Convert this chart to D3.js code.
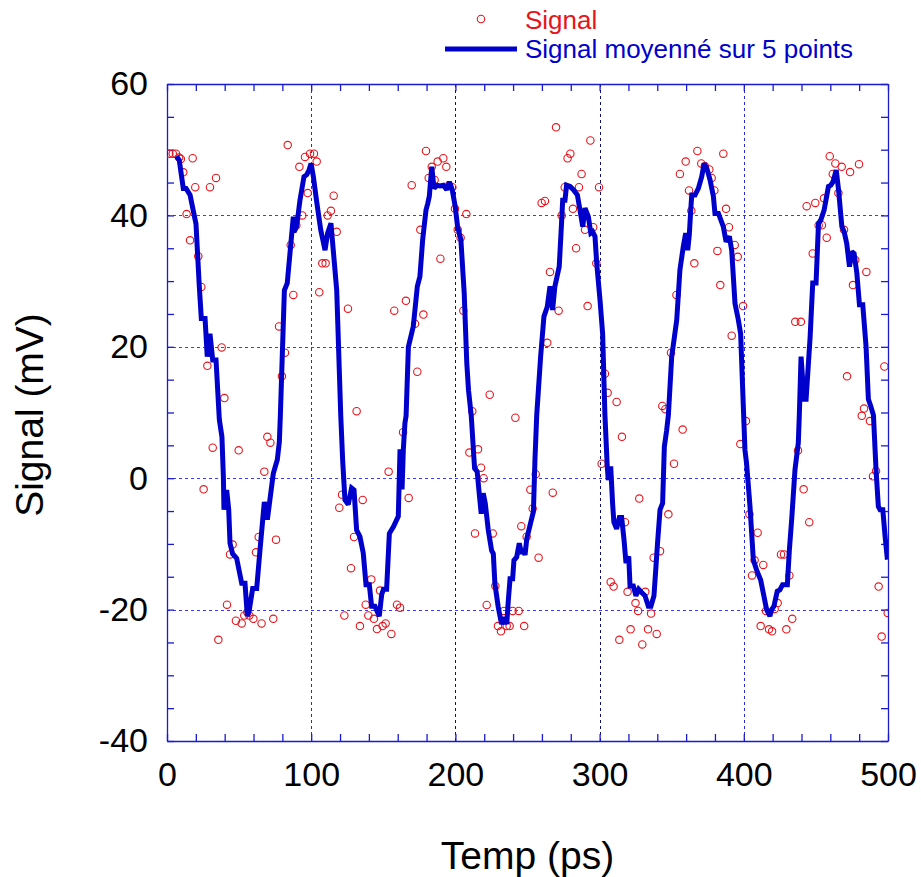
<!DOCTYPE html>
<html><head><meta charset="utf-8">
<script src="https://cdn.jsdelivr.net/npm/d3@7"></script>
<style>
html,body{margin:0;padding:0;background:#fff;}
svg{display:block;font-family:"Liberation Sans",Arial,Helvetica,sans-serif;}
</style></head>
<body><svg id="c" width="921" height="877"></svg>
<script>
// ---- data ----
const signalT = [1.6,4,6.2,8.4,9.6,11.3,13.6,16,17.8,19.6,21.7,23.8,25.4,28,29.8,31.7,34,35.6,37.9,39.8,41.6,43.7,45.5,47.8,49.7,51.8,53.6,55.7,57.1,59.9,61.7,63.6,65.6,67.5,69.6,71.7,73.7,75.6,77.7,79.7,81.8,83.7,85.8,87.6,89.7,91.8,93.8,95.7,97.6,99.2,101.9,103.8,105.6,107.7,110,111.4,113.7,115.6,117.7,119.5,121.4,123,125.5,127.6,129.7,131.5,133.8,135.7,137.8,139.6,141.7,143.5,145.6,147.7,149.5,151.6,153.7,155.6,157.6,159.5,161.6,163.7,165.7,167.6,169.7,172,173.6,175.7,177.8,179.6,181.5,183.6,185.6,187.7,189.6,191.6,193.7,195.6,197.9,199.7,201.6,203.6,205.5,207.6,209.7,211.7,213.6,215.7,217.8,219.6,221.7,223.8,225.9,227.7,229.5,231.6,233.7,235.6,237.6,239.7,241.6,243.9,245.7,247.7,249.4,252,253.6,255.7,257.7,259.8,262.1,263.7,265.6,267.5,269.8,271.6,273.7,275.8,277.8,279.7,281.5,283.7,285.7,287.5,289.9,291.7,293.6,295.6,297.7,299.6,301.4,303.7,305.6,307.7,309.7,311.8,313.7,315.5,317.6,319.4,321.5,324.9,326.7,327.5,329.6,331.7,333.6,335.7,337.5,339.6,341.9,343.5,345.6,347.7,349.5,351.6,353.3,355.7,357.6,359.7,362,363.6,365.7,367.8,370.5,373,376.1,377.7,379.6,381.7,383.7,385.8,387.7,389.7,391.6,393.7,395.8,397.6,399.5,401.5,403.9,405.7,407.5,409.6,411.7,413.5,415.4,417.5,419.6,421.4,423.5,425.8,427.9,429.5,431.6,433.6,435.7,437.6,439.6,441.5,443.6,445.4,447.8,449.6,451.9,454.2,455.6,457.5,459.6,461.7,463.5,465.6,467.9,469.5,471.6,473.7,475.7,477.3,479.9,481.8,483.4,485,487.5,489.6,491.7,493.5,495.6,497.5,499.8];
const signalV = [49.4,49.4,49.4,48.8,48.6,46.55,40.2,36.2,48.7,44.3,33.8,29.1,-1.7,17.1,44.3,4.65,45.7,-24.6,19.9,12.2,-19.25,-11.6,-10.1,-21.7,4.25,-22.1,-20.9,-20.4,-20.9,-21.4,-11.28,-8.95,-22.1,1,6.3,5.4,-21.4,-9.35,23.1,15.5,19.1,50.7,35.5,27.9,38.5,47.4,40,48.9,43.4,49.4,49.4,48.2,28.3,32.7,32.7,40,40.7,43,37.5,-4.5,-2.5,-20.9,25.8,-13.7,-8.95,10.2,-22.5,-3.3,-19.25,-20.9,-15.4,-21.4,-22.96,-17.1,-22.5,-22.1,1,-23.7,25.5,-19.25,-19.7,7,27,-3,44.6,23.5,16.2,37.8,24.9,49.8,45.7,47.4,45.4,48.2,33.4,48.7,47.4,44.6,44.3,41,37.8,36.6,25.5,40.2,3.9,10.2,-8.4,4.4,1.6,0,-19.3,12.7,-8.4,-16.4,-22.5,-23.3,-20.2,-22.5,-22.5,-20.2,9.2,-20.2,-7.3,-22.5,-8.9,-1.75,-4.6,0.6,-12.1,41.9,42.2,20.6,31.4,-2.2,53.4,25.5,40,44.3,48.7,49.4,41,35,44.3,46.3,37.8,26.2,51.4,38.2,32.7,44.3,2.2,15.9,13,-15.8,-16.5,11.6,-24.6,6.3,-6.7,-17.3,-23,-19,-20.2,-3.1,-25.3,-17.3,-23,-20.6,-12.1,-23.7,-11.1,11,10.5,-5.5,19.1,2.2,27.9,46.3,7.4,48.2,43.8,40.7,32.7,49.8,47.9,47.5,47,45.7,43.8,34.6,29.4,49.4,41,38.2,21.7,35.5,33.7,5.2,26.2,8.7,-5.5,-14.8,-12.5,-8.3,-22.5,-13.2,-20.2,-23,-23.3,-19.9,-19,-11.6,-11.6,-23,-14.8,-21.4,23.8,4.2,23.8,-1.7,41.4,-6.7,34.2,41.9,38.5,38.5,42.6,36.6,49,46.3,47.9,43.4,47.4,37.8,15.5,46.6,29.4,33.2,47.8,9.5,10.6,31.4,8.7,0.3,1.1,-16.5,-24.1,17,-20.5];

const avgT = [6.5,8.5,11.3,13.2,16,20.1,22.4,23.8,26.4,27.9,29.8,31.7,34,36.3,38.1,39.1,39.5,41.4,42.8,43.7,45.5,48.3,51.8,54.1,55.7,57.1,59.4,62.2,64.5,67.5,69.6,73.7,76.5,77.9,78.6,81.4,83.4,85.8,87.6,88.1,89.9,92.2,95,96.9,98.5,99.9,101.5,103.8,106.6,109.6,111.4,113.7,115.3,117.7,120.5,121.8,123.4,125.7,128,129.7,131.5,133.8,136.1,138,140.3,141.9,144.2,147.2,148.9,150.1,152.3,154.2,157,160.4,161.6,163,163.9,165,165.8,167.4,170.8,173.6,175.4,177.3,179.6,180.8,181.9,183.6,185.2,187.1,189.4,191.6,194,195.8,197.8,199.9,201.5,203.8,206.1,207.9,209.1,211,213.3,215.1,216.5,217.9,219.3,220.7,222.8,225.1,226.3,227.4,229.7,232,233.7,235.6,236.7,237.9,239.7,240.6,242.5,244.3,245.9,247.1,248.3,249.5,252.3,254.1,255.2,256.4,259.1,261.4,263.7,265.6,267.4,269,272,273.6,274.4,276,277.1,279.5,281.8,284.6,286.4,288.3,289.9,292.2,293.9,295.2,296.8,298,300.3,302.1,303.7,305.3,306,307.7,309,309.9,311.8,313.7,315.3,316.9,318.3,320.2,321.1,323.4,325.2,327.1,329.2,331.5,333.8,335.6,337.7,339.1,340.2,341.9,343.7,344.9,346.5,347.7,350,353.5,355.7,358,359.7,361.1,362.2,363.2,363.9,366.2,368.5,370.8,372.5,374.3,376.6,378.9,380,382.4,385.8,387.7,390,391.6,393.9,396.2,397.8,399.9,400.8,401.9,404.3,406.6,408.9,411.7,414,415.8,418.1,419.3,420.9,423.2,425,426.9,430.2,431.6,433.2,435.5,437.8,438.5,439.7,441.8,443.2,446,447.8,450.1,451.8,453.4,455.7,458.7,460.4,461.8,464.1,465.7,468,469.6,471.4,473.3,474.9,476.5,478.4,480.2,482.5,484.8,486.4,488,489.9,491.7,493.3,494.5,496.4,498,499.6];
const avgV = [49,48.4,44.1,44.1,43.1,38.7,29.2,24.3,24.3,18.5,22,18,18,8.9,6.3,0.2,-4.8,-1.8,-4.8,-9.9,-11.5,-12.2,-16,-16,-21,-20,-16.8,-16.8,-10.9,-3.6,-6.3,0.7,2.8,5.5,9.5,28.6,29.7,35.5,39.8,37.5,38.3,42.3,45.9,46.2,46.9,47.9,45.9,42.1,37.8,34.7,37.3,38.8,34.7,28.6,9.5,2.8,-3.3,-4,-1.5,-1.8,-7.9,-8.9,-11.4,-16.2,-16.2,-19.5,-19.5,-21,-17.7,-16.9,-16.9,-8.4,-7.4,-5.8,4.4,-1.7,4.4,8.4,9.5,20,23.1,29.2,30.7,36.3,40.8,41.8,42.9,47.4,44.1,44.6,44.5,44.6,43.9,45.1,43.9,41.3,38.3,36.3,28.2,17.5,13.4,9.5,1.5,1,-2.3,-5.4,-2.3,-3.8,-7.9,-11,-11.5,-16.1,-19.6,-22.2,-21.2,-22.2,-18.6,-15.3,-15.3,-12.5,-12,-9.9,-11.5,-10.7,-11.7,-9.2,-6.7,-5.1,3,9.6,18.5,24.6,26.1,29.2,25.6,29.2,32.2,38.8,42.3,42.3,44.6,44.4,43.9,43.1,40.8,38.3,41.1,39.8,37.3,37.5,36.8,32.7,27.1,22,9.6,1.8,-0.3,1.8,-3.8,-6.7,-7.7,-6,-6,-9.3,-12.9,-11.9,-16.4,-16.4,-17.9,-16.9,-17.4,-17.9,-19.5,-19.5,-17.9,-13.4,-9.8,-4.8,-3.8,4.8,7.3,9.6,18.5,24.1,31.7,35.2,37.3,34.7,37,40.8,43.1,43.1,44.1,45.9,47.9,47.2,45.4,42.9,40.3,40.3,38.3,36,36.8,34.7,26.6,24.1,22,9.6,4.3,2.3,-4.3,-12.4,-14,-15.5,-18,-20,-21,-20,-19.5,-17.2,-17,-16.2,-16.2,-10.9,-6.3,1.3,5.4,9.6,18.5,12,12,21.5,29.7,29.7,38.8,39.3,40.8,44.4,44.6,45.1,46.9,43.9,38.3,37.5,35.7,32.2,34.5,34.2,31.2,26.4,26.4,20,12,11,9.6,1.3,-4.3,-4.8,-4.8,-8.9,-12.4,-11.9];

const xMajor = [0,100,200,300,400,500];
const yMajor = [-40,-20,0,20,40,60];
const xGrid = [100,200,300,400];
const yGrid = [-20,0,20,40];
const legendLabels = ["Signal","Signal moyenné sur 5 points"];
const xTitle = "Temp (ps)";
const yTitle = "Signal (mV)";

// ---- layout ----
const L = 167, R = 888, T = 84, B = 741;
const BLUE = "#0000cc", RED = "#e8141b", FRAME = "#1a1ad0";
const svg = d3.select("#c");
const x = d3.scaleLinear().domain([0,500]).range([L,R]);
const y = d3.scaleLinear().domain([-40,60]).range([B,T]);
const px = v => Math.round(v) + 0.5;

svg.append("defs").append("clipPath").attr("id","clip")
  .append("rect").attr("x",L).attr("y",T).attr("width",R-L).attr("height",B-T);

// grid
const g = svg.append("g").attr("shape-rendering","crispEdges");
g.selectAll(".gx").data(xGrid).join("line")
  .attr("x1",d=>px(x(d))).attr("x2",d=>px(x(d))).attr("y1",T).attr("y2",B)
  .attr("stroke",d => (d===200||d===300) ? "#101070" : "#2828e0")
  .attr("stroke-width",1).attr("stroke-dasharray","3,3");
g.selectAll(".gy").data(yGrid).join("line")
  .attr("x1",L).attr("x2",R).attr("y1",d=>px(y(d))).attr("y2",d=>px(y(d)))
  .attr("stroke","#3c3cf5").attr("stroke-width",1).attr("stroke-dasharray","3,3");

// axes
const fmtX = d => xMajor.includes(d) ? d : "";
const fmtY = d => yMajor.includes(d) ? d : "";
const xt = d3.range(0,501,20), yt = d3.range(-40,61,5);
function style(a){
  a.selectAll("path").attr("stroke",FRAME).attr("stroke-width",1.3);
  a.selectAll("line").attr("stroke",FRAME).attr("stroke-width",1.3);
  a.selectAll("text").attr("fill","#000").style("font-size","34px")
   .style("font-family","'Liberation Sans',Arial,sans-serif");
}
const ab = svg.append("g").attr("transform",`translate(0,${B})`)
  .call(d3.axisBottom(x).tickValues(xt).tickFormat(fmtX).tickSize(-7).tickSizeOuter(0).tickPadding(21));
style(ab);
const at = svg.append("g").attr("transform",`translate(0,${T})`)
  .call(d3.axisTop(x).tickValues(xt).tickFormat("").tickSize(-7).tickSizeOuter(0));
style(at);
const al = svg.append("g").attr("transform",`translate(${L},0)`)
  .call(d3.axisLeft(y).tickValues(yt).tickFormat(fmtY).tickSize(-7).tickSizeOuter(0).tickPadding(19));
style(al);
const ar = svg.append("g").attr("transform",`translate(${R},0)`)
  .call(d3.axisRight(y).tickValues(yt).tickFormat("").tickSize(-7).tickSizeOuter(0));
style(ar);

// data
const plot = svg.append("g").attr("clip-path","url(#clip)");
const pts = signalT.map((t,i)=>[t,signalV[i]]);
plot.selectAll("circle").data(pts).join("circle")
  .attr("cx",d=>x(d[0])).attr("cy",d=>y(d[1])).attr("r",3.7)
  .attr("fill","none").attr("stroke",RED).attr("stroke-width",1.1);
const avg = avgT.map((t,i)=>[t,avgV[i]]);
plot.append("path").datum(avg)
  .attr("d",d3.line().x(d=>x(d[0])).y(d=>y(d[1])))
  .attr("fill","none").attr("stroke",BLUE).attr("stroke-width",5)
  .attr("stroke-linejoin","miter").attr("stroke-miterlimit",2);

// titles
svg.append("text").attr("x",(L+R)/2).attr("y",869).attr("text-anchor","middle")
  .style("font-size","39px").attr("fill","#000").text(xTitle);
svg.append("text").attr("transform","translate(43,415) rotate(-90)").attr("text-anchor","middle")
  .style("font-size","39px").attr("fill","#000").text(yTitle);

// legend
const lg = svg.append("g");
lg.append("circle").attr("cx",481).attr("cy",19).attr("r",3.7)
  .attr("fill","none").attr("stroke",RED).attr("stroke-width",1.1);
lg.append("text").attr("x",525).attr("y",29).style("font-size","26px").attr("fill",RED).text(legendLabels[0]);
lg.append("line").attr("x1",445).attr("x2",517).attr("y1",49).attr("y2",49)
  .attr("stroke",BLUE).attr("stroke-width",5);
lg.append("text").attr("x",525).attr("y",58).style("font-size","26px").attr("fill",BLUE).text(legendLabels[1]);
</script></body></html>
